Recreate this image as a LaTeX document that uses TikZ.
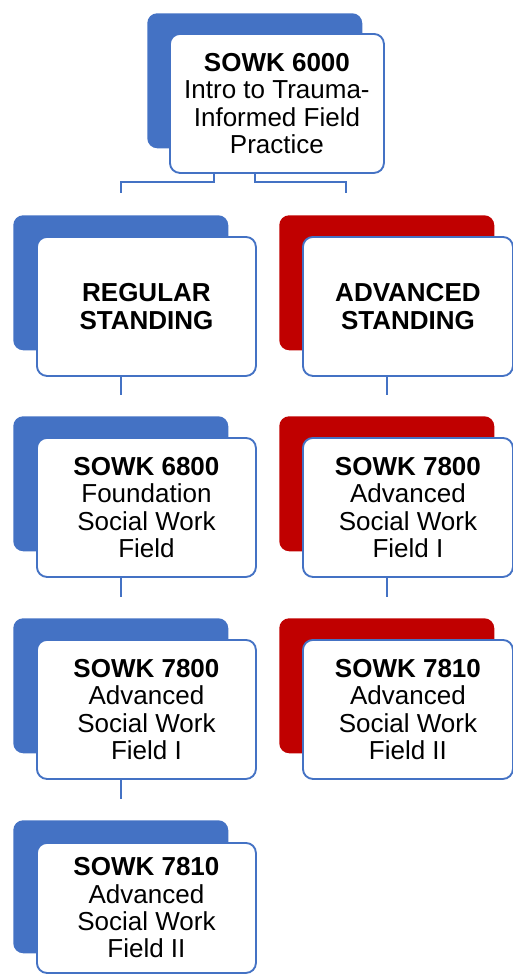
\documentclass[tikz,border=0pt]{standalone}
\usepackage{fontspec}
\setmainfont{Liberation Sans}
\definecolor{fblue}{HTML}{4472C4}
\definecolor{fred}{HTML}{C00000}

\begin{document}
\begin{tikzpicture}[x=0.75pt,y=-0.75pt,
  back/.style={fill=#1,rounded corners=7.5pt,inner sep=0pt,anchor=north west,
    minimum width=161.25pt,minimum height=101.25pt},
  card/.style={draw=fblue,line width=1.4pt,fill=white,rounded corners=7.5pt,anchor=north west,
    minimum width=164.25pt,minimum height=104.25pt,inner sep=0pt,align=center,
    font=\fontsize{19.5}{20.5}\selectfont},
  link/.style={draw=fblue,line width=1.5pt}]
  \useasboundingbox (0,0) rectangle (513,975);

  % top course
  \node[back=fblue] (t6000b) at (147,13) {};
  \node[card,minimum width=160.5pt] (t6000) at (169,33) {\textbf{SOWK 6000}\\Intro to Trauma-\\Informed Field\\Practice};

  % regular standing track
  \node[back=fblue] (regb) at (13,215) {};
  \node[card] (reg) at (36,236) {\textbf{REGULAR}\\\textbf{STANDING}};
  \node[back=fblue] (r6800b) at (13,416) {};
  \node[card] (r6800) at (36,437) {\textbf{SOWK 6800}\\Foundation\\Social Work\\Field};
  \node[back=fblue] (r7800b) at (13,618) {};
  \node[card] (r7800) at (36,639) {\textbf{SOWK 7800}\\Advanced\\Social Work\\Field I};
  \node[back=fblue,minimum height=99.75pt] (r7810b) at (13,820) {};
  \node[card,minimum height=97.5pt] (r7810) at (36,842) {\textbf{SOWK 7810}\\Advanced\\Social Work\\Field II};

  % advanced standing track
  \node[back=fred] (advb) at (279,215) {};
  \node[card,minimum width=157.5pt] (adv) at (302,236) {\textbf{ADVANCED}\\\textbf{STANDING}};
  \node[back=fred] (a7800b) at (279,416) {};
  \node[card,minimum width=157.5pt] (a7800) at (302,437) {\textbf{SOWK 7800}\\Advanced\\Social Work\\Field I};
  \node[back=fred] (a7810b) at (279,618) {};
  \node[card,minimum width=157.5pt] (a7810) at (302,639) {\textbf{SOWK 7810}\\Advanced\\Social Work\\Field II};

  % connectors
  \coordinate (advin) at (346,193);
  \draw[link] ([xshift=-47pt]t6000.south) -- ++(0,8) -| ([yshift=16.5pt]regb.north);
  \draw[link] (t6000b.south |- t6000.south) -- ++(0,8) -| (advin);
  \draw[link] (regb.south |- reg.south) -- ([yshift=15.75pt]r6800b.north);
  \draw[link] (r6800b.south |- r6800.south) -- ([yshift=15.75pt]r7800b.north);
  \draw[link] (r7800b.south |- r7800.south) -- ([yshift=15.75pt]r7810b.north);
  \draw[link] (advb.south |- adv.south) -- ([yshift=15.75pt]a7800b.north);
  \draw[link] (a7800b.south |- a7800.south) -- ([yshift=15.75pt]a7810b.north);
\end{tikzpicture}
\end{document}
